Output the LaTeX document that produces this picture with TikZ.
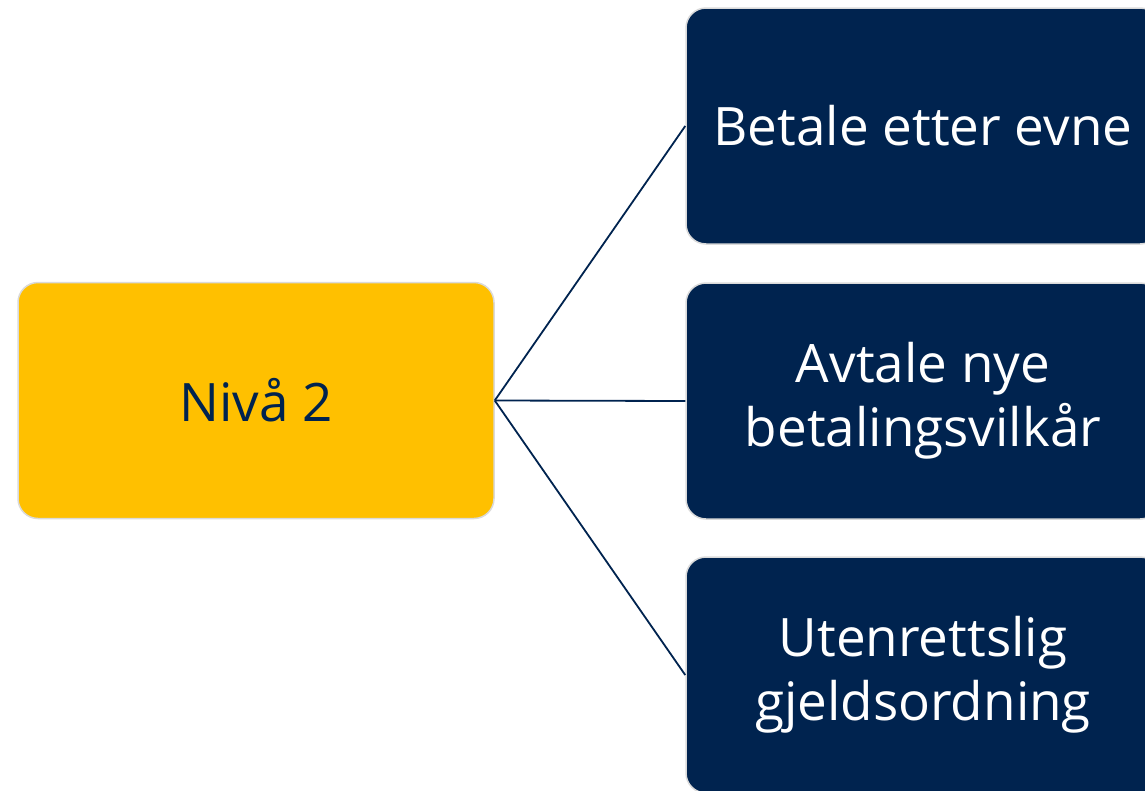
\documentclass[tikz,border=0pt]{standalone}
\usepackage{fontspec}
\setmainfont{Open Sans}
\definecolor{navy}{HTML}{00234F}
\definecolor{gold}{HTML}{FFC000}
\definecolor{edgegray}{HTML}{DADADA}
\begin{document}
\begin{tikzpicture}[x=1pt,y=-1pt,
  boxbase/.style={draw=edgegray,line width=1.5pt,rounded corners=20pt,minimum width=476pt,minimum height=236pt,inner sep=0pt,align=center,font=\fontsize{53}{64}\selectfont},
  leftbox/.style={boxbase,fill=gold,text=navy},
  rightbox/.style={boxbase,fill=navy,text=white,minimum width=474pt},
  link/.style={draw=navy,line width=1.8pt}]
\useasboundingbox (0,0) rectangle (1145,790);
\clip (0,0) rectangle (1145,790);
\node[leftbox] (lvl) at (256,400.5) {Nivå 2};
\node[rightbox] (b1) at (923,126) {Betale etter evne};
\node[rightbox] (b2) at (923,401) {Avtale nye\\betalingsvilkår};
\node[rightbox] (b3) at (923,675) {Utenrettslig\\gjeldsordning};
\draw[link] (lvl.east) -- (b1.west);
\draw[link] (lvl.east) -- (b2.west);
\draw[link] (lvl.east) -- (b3.west);
\end{tikzpicture}
\end{document}
